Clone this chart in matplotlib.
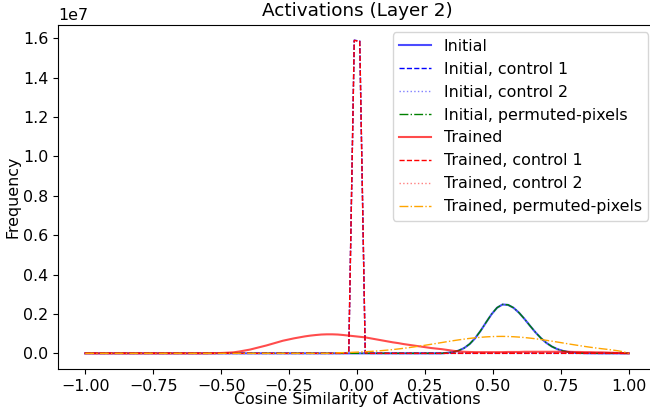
#!/usr/bin/env python3
import numpy as np
import matplotlib
matplotlib.use("Agg")
import matplotlib.pyplot as plt

# -------------------------------------------------------------------
# Data (frequency in millions, on a 100 point similarity grid)
# -------------------------------------------------------------------
similarity_grid = np.linspace(-1, 1, 100)

initial = [0.0] * 66 + [
    0.029, 0.066, 0.138, 0.266, 0.469, 0.762, 1.140, 1.569, 1.985, 2.314,
    2.479, 2.460, 2.313, 2.063, 1.746, 1.401, 1.067, 0.771, 0.528, 0.343,
    0.212, 0.124, 0.069, 0.036, 0.018, 0.008, 0.004, 0.002,
] + [0.0] * 6

initial_control1 = [0.0] * 48 + [0.02, 15.90, 15.85, 0.02] + [0.0] * 48
initial_control2 = [0.0] * 48 + [0.02, 15.88, 15.86, 0.02] + [0.0] * 48

initial_permuted = [0.0] * 66 + [
    0.030, 0.067, 0.140, 0.268, 0.472, 0.765, 1.143, 1.572, 1.988, 2.318,
    2.484, 2.465, 2.316, 2.066, 1.748, 1.403, 1.069, 0.772, 0.529, 0.344,
    0.213, 0.125, 0.070, 0.037, 0.018, 0.008, 0.004, 0.002,
] + [0.0] * 6

trained = [0.0] * 23 + [
    0.005, 0.01, 0.02, 0.033, 0.05, 0.09, 0.14, 0.19, 0.26, 0.33,
    0.40, 0.48, 0.56, 0.64, 0.70, 0.76, 0.81, 0.86, 0.90, 0.93,
    0.955, 0.965, 0.965, 0.955, 0.93, 0.90, 0.87, 0.84, 0.81, 0.76,
    0.71, 0.66, 0.61, 0.56, 0.52, 0.47, 0.43, 0.39, 0.35, 0.31,
    0.27, 0.24, 0.21, 0.17, 0.13, 0.10, 0.08,
    0.07, 0.06, 0.06, 0.06, 0.06, 0.06, 0.06, 0.07, 0.07, 0.07,
    0.08, 0.08, 0.08, 0.08, 0.08, 0.08, 0.08, 0.08, 0.08, 0.07,
    0.07, 0.06, 0.06, 0.05, 0.05, 0.04, 0.03, 0.02, 0.01, 0.0,
]

trained_control1 = [0.0] * 48 + [0.02, 15.89, 15.84, 0.02] + [0.0] * 48
trained_control2 = [0.0] * 48 + [0.02, 15.87, 15.85, 0.02] + [0.0] * 48

trained_permuted = [0.0] * 45 + [0.01] + [
    0.028, 0.036, 0.044, 0.055, 0.067, 0.081, 0.098, 0.117, 0.139, 0.164,
    0.191, 0.222, 0.256, 0.292, 0.331, 0.372, 0.415, 0.460, 0.506, 0.551,
    0.597, 0.641, 0.683, 0.722, 0.758, 0.789, 0.815, 0.835, 0.850, 0.858,
    0.860, 0.855, 0.843, 0.825, 0.802, 0.773, 0.739, 0.702, 0.661, 0.618,
    0.573, 0.527, 0.480, 0.436, 0.392, 0.349, 0.309, 0.272, 0.237, 0.205,
] + [0.17, 0.13, 0.08, 0.0]

series = [
    ("Initial", initial, dict(color="blue", linestyle="-", linewidth=1.5, alpha=0.7)),
    ("Initial, control 1", initial_control1, dict(color="blue", linestyle="--", linewidth=1)),
    ("Initial, control 2", initial_control2, dict(color="blue", linestyle=":", linewidth=1, alpha=0.5)),
    ("Initial, permuted-pixels", initial_permuted, dict(color="green", linestyle="-.", linewidth=1)),
    ("Trained", trained, dict(color="red", linestyle="-", linewidth=1.5, alpha=0.7)),
    ("Trained, control 1", trained_control1, dict(color="red", linestyle="--", linewidth=1)),
    ("Trained, control 2", trained_control2, dict(color="red", linestyle=":", linewidth=1, alpha=0.5)),
    ("Trained, permuted-pixels", trained_permuted, dict(color="orange", linestyle="-.", linewidth=1)),
]

# -------------------------------------------------------------------
# Plot
# -------------------------------------------------------------------
plt.rcParams["font.size"] = 11.4

fig = plt.figure(figsize=(6.5, 4.12), dpi=100)
ax = fig.add_axes([58 / 650, 43 / 412, 598 / 650, 344.5 / 412])

for label, values, style in series:
    ax.plot(similarity_grid, np.array(values) * 1e6, label=label, **style)

ax.set_xlabel("Cosine Similarity of Activations", labelpad=-1)
ax.set_ylabel("Frequency", labelpad=2)
ax.set_title("Activations (Layer 2)", fontsize=13.2)
ax.legend(loc="upper right")

fig.savefig("out.png", dpi=100)
print("Saved out.png")
